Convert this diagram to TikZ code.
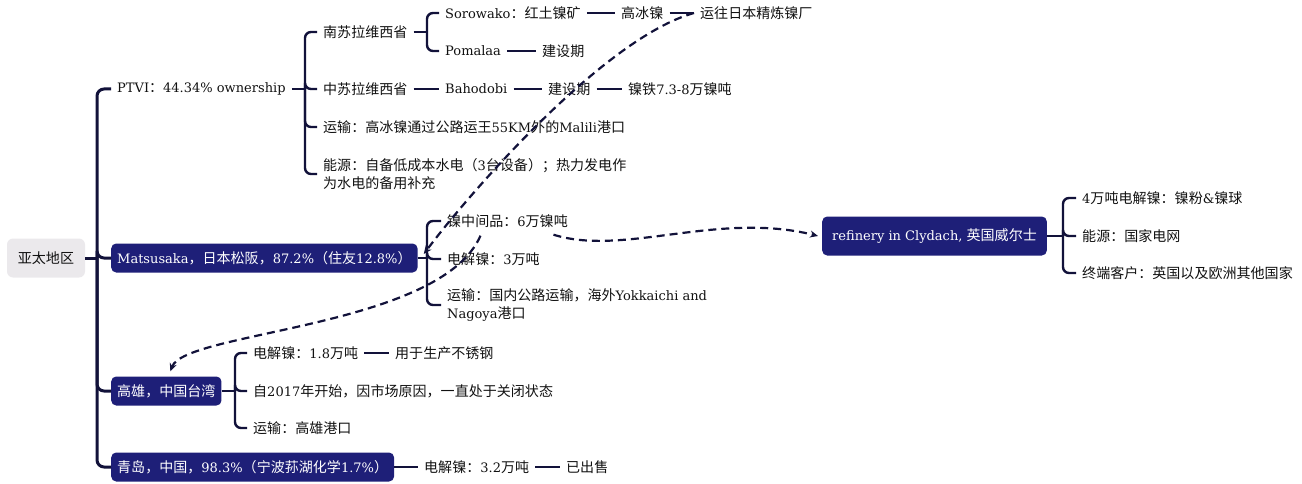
\documentclass[tikz,border=0pt]{standalone}
\usepackage{fontspec}
\usepackage{xcolor}
\usepackage{tikz}
\usetikzlibrary{arrows.meta}
\setmainfont{DejaVu Serif}
\newfontfamily\latinfont{DejaVu Serif}
\newfontfamily\cjkfont[Scale=1.08]{Noto Sans CJK SC}
\definecolor{mapline}{HTML}{12123A}
\definecolor{mapbox}{HTML}{1E1F78}
\definecolor{maproot}{HTML}{EBE9EC}
\definecolor{maptext}{HTML}{111111}

% switch to the CJK font for Chinese characters
\XeTeXinterchartokenstate=1
\newXeTeXintercharclass\cjkcls
\count255="3000
\loop \XeTeXcharclass\count255=\cjkcls \advance\count255 by 1 \ifnum\count255<"3040 \repeat
\count255="4E00
\loop \XeTeXcharclass\count255=\cjkcls \advance\count255 by 1 \ifnum\count255<"A000 \repeat
\count255="FF00
\loop \XeTeXcharclass\count255=\cjkcls \advance\count255 by 1 \ifnum\count255<"FFF0 \repeat
\XeTeXinterchartoks 0 \cjkcls = {\cjkfont}
\XeTeXinterchartoks 4095 \cjkcls = {\cjkfont}
\XeTeXinterchartoks \cjkcls 0 = {\latinfont}
\XeTeXinterchartoks \cjkcls 4095 = {\latinfont}

\begin{document}
\begin{tikzpicture}[x=1pt,y=-1pt,
    font=\fontsize{13}{18}\selectfont, text=maptext,
    leaf/.style={inner xsep=6pt, inner ysep=3pt, anchor=west, align=left},
    hub/.style={fill=mapbox, text=white, rounded corners=5pt, inner xsep=6pt, minimum height=29pt, anchor=west},
    trunk/.style={mapline, line width=3pt, rounded corners=7pt},
    twig/.style={mapline, line width=2.4pt, rounded corners=6pt},
    link/.style={mapline, line width=2.2pt, dash pattern=on 8pt off 5pt, -{Stealth[length=8pt,width=7pt]}}]
    \useasboundingbox (0,0) rectangle (1302,484);

    % Root
    \node[fill=maproot, rounded corners=6pt, minimum width=78pt, minimum height=39pt] (root) at (46,258) {亚太地区};

    % Main branches
    \node[leaf] (ptvi) at (111,89) {PTVI：44.34\% ownership};
    \node[hub] (matsu) at (111,258) {Matsusaka，日本松阪，87.2\%（住友12.8\%）};
    \node[hub] (gaoxiong) at (111,391) {高雄，中国台湾};
    \node[hub] (qingdao) at (111,467) {青岛，中国，98.3\%（宁波荪湖化学1.7\%）};

    \coordinate (root-b) at (97,258);
    \draw[trunk] (root.east) -- (root-b);
    \foreach \c in {ptvi,matsu,gaoxiong,qingdao}
        \draw[trunk] (root-b) |- (\c.west);

    % PTVI
    \node[leaf] (nansu) at (317,32) {南苏拉维西省};
    \node[leaf] (zhongsu) at (317,89) {中苏拉维西省};
    \node[leaf] (yunshu1) at (317,127) {运输：高冰镍通过公路运王55KM外的Malili港口};
    \node[leaf] (nengyuan1) at (317,174) {能源：自备低成本水电（3台设备）；热力发电作\\为水电的备用补充};

    \coordinate (ptvi-b) at (305,89);
    \draw[twig] (ptvi.east) -- (ptvi-b);
    \foreach \c in {nansu,zhongsu,yunshu1,nengyuan1}
        \draw[twig] (ptvi-b) |- (\c.west);

    % South Sulawesi
    \node[leaf] (sorowako) at (439,13) {Sorowako：红土镍矿};
    \node[leaf] (gaobing) at (615,13) {高冰镍};
    \node[leaf] (yunwang) at (694,13) {运往日本精炼镍厂};
    \node[leaf] (pomalaa) at (439,51) {Pomalaa};
    \node[leaf] (jianshe1) at (536,51) {建设期};

    \coordinate (nansu-b) at (427,32);
    \draw[twig] (nansu.east) -- (nansu-b);
    \foreach \c in {sorowako,pomalaa}
        \draw[twig] (nansu-b) |- (\c.west);
    \draw[twig] (sorowako) -- (gaobing);
    \draw[twig] (gaobing) -- (yunwang);
    \draw[twig] (pomalaa) -- (jianshe1);

    % Central Sulawesi
    \node[leaf] (bahodobi) at (439,89) {Bahodobi};
    \node[leaf] (jianshe2) at (542,89) {建设期};
    \node[leaf] (nitie) at (622,89) {镍铁7.3-8万镍吨};
    \draw[twig] (zhongsu) -- (bahodobi);
    \draw[twig] (bahodobi) -- (jianshe2);
    \draw[twig] (jianshe2) -- (nitie);

    % Matsusaka
    \node[leaf] (nizj) at (441,221) {镍中间品：6万镍吨};
    \node[leaf] (dianjie1) at (441,259) {电解镍：3万吨};
    \node[leaf] (yunshu2) at (441,305) {运输：国内公路运输，海外Yokkaichi and\\Nagoya港口};

    \coordinate (matsu-b) at (427,258);
    \draw[twig] (matsu.east) -- (matsu-b);
    \foreach \c in {nizj,dianjie1,yunshu2}
        \draw[twig] (matsu-b) |- (\c.west);

    % Kaohsiung
    \node[leaf] (dianjie2) at (247,353) {电解镍：1.8万吨};
    \node[leaf] (yongyu) at (389,353) {用于生产不锈钢};
    \node[leaf] (guanbi) at (247,391) {自2017年开始，因市场原因，一直处于关闭状态};
    \node[leaf] (yunshu3) at (247,428) {运输：高雄港口};

    \coordinate (gaoxiong-b) at (235,391);
    \draw[twig] (gaoxiong.east) -- (gaoxiong-b);
    \foreach \c in {dianjie2,guanbi,yunshu3}
        \draw[twig] (gaoxiong-b) |- (\c.west);
    \draw[twig] (dianjie2) -- (yongyu);

    % Qingdao
    \node[leaf] (dianjie3) at (418,467) {电解镍：3.2万吨};
    \node[leaf] (yishou) at (560,467) {已出售};
    \draw[twig] (qingdao) -- (dianjie3);
    \draw[twig] (dianjie3) -- (yishou);

    % Clydach refinery
    \node[hub, minimum height=39pt, inner xsep=10pt] (clydach) at (822,236) {refinery in Clydach, 英国威尔士};
    \node[leaf] (siwan) at (1076,198) {4万吨电解镍：镍粉\&镍球};
    \node[leaf] (nengyuan2) at (1076,236) {能源：国家电网};
    \node[leaf] (kehu) at (1076,273) {终端客户：英国以及欧洲其他国家};

    \coordinate (clydach-b) at (1063,236);
    \draw[twig] (clydach.east) -- (clydach-b);
    \foreach \c in {siwan,nengyuan2,kehu}
        \draw[twig] (clydach-b) |- (\c.west);

    % Relations
    \draw[link] (yunwang.west) .. controls +(-90,25) and +(45,-60) .. ([xshift=6pt,yshift=4pt]matsu.east);
    \draw[link] ([xshift=-27pt,yshift=-5pt]nizj.south) .. controls +(-40,92) and +(15,-40) .. ([xshift=4pt,yshift=5pt]gaoxiong.north);
    \draw[link] ([xshift=46pt,yshift=-4pt]nizj.south) .. controls +(70,22) and +(-100,-25) .. ([xshift=-4pt]clydach.west);
\end{tikzpicture}
\end{document}
